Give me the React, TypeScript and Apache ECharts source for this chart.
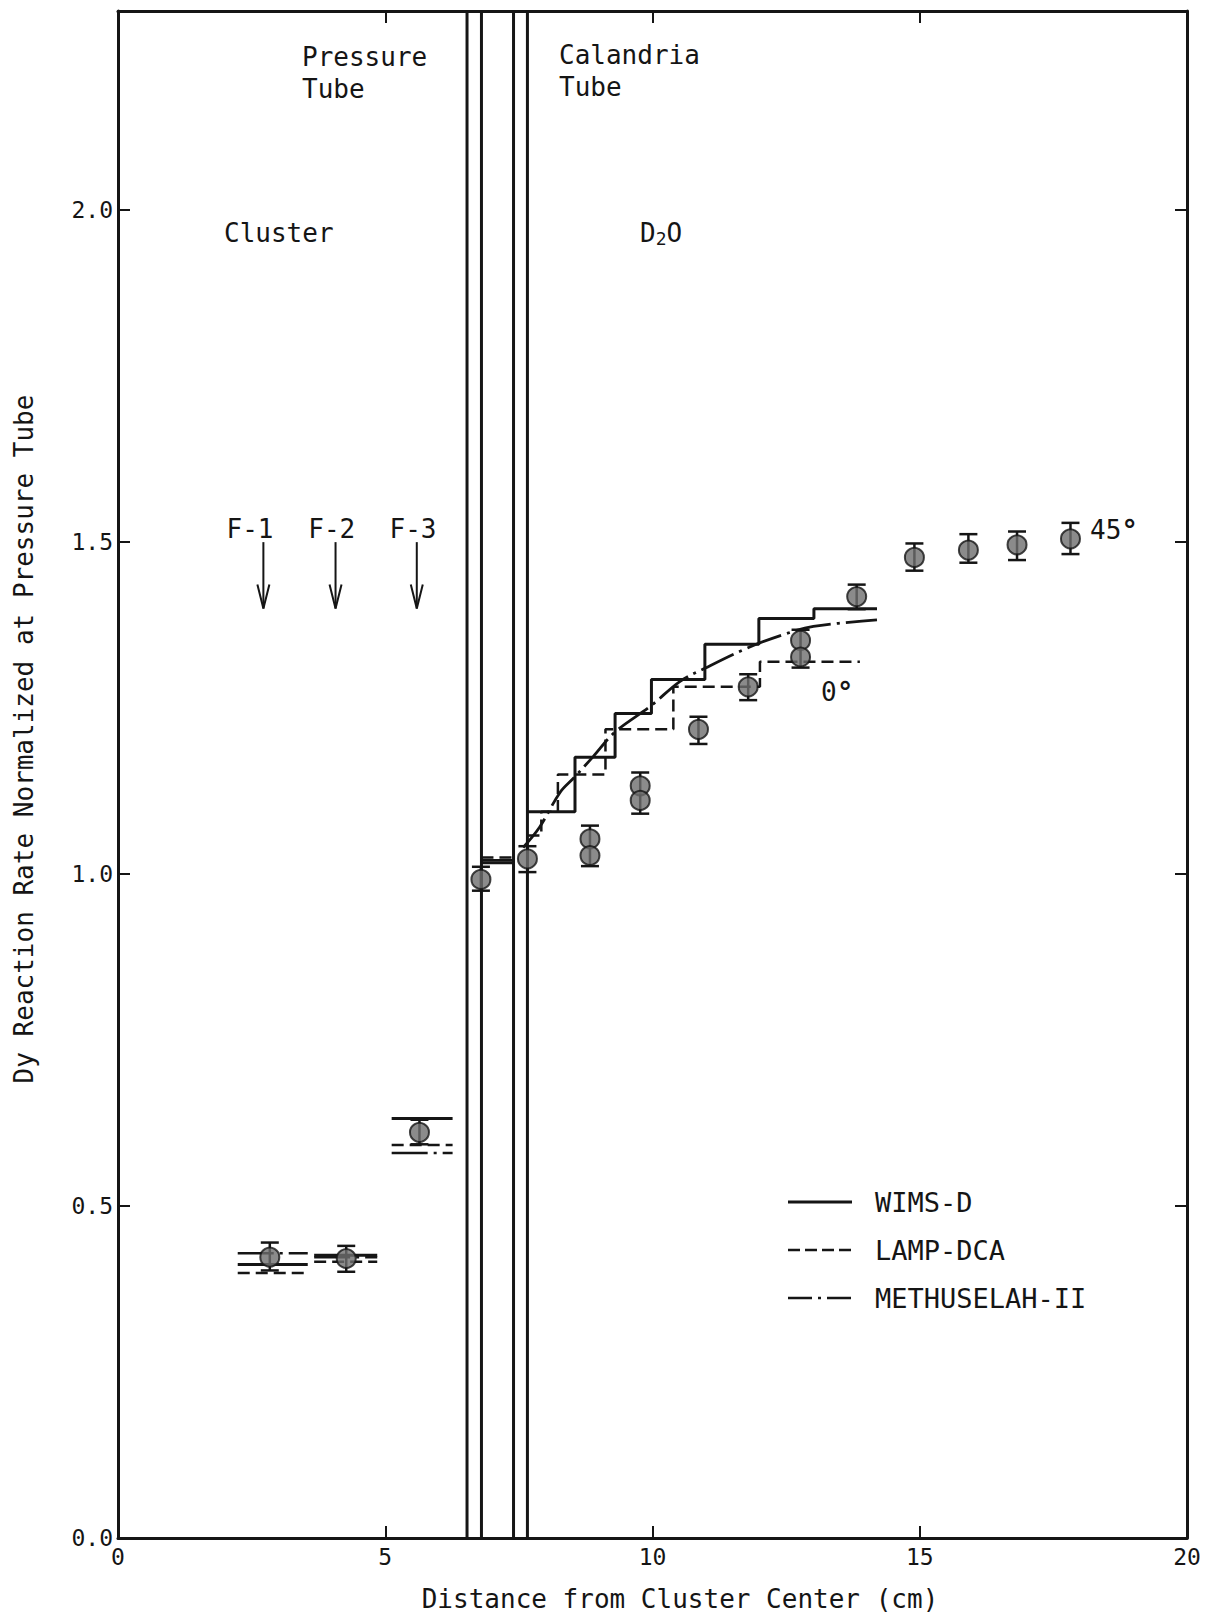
import React, { useEffect, useRef } from "react";
import * as echarts from "echarts";

const FONT = "'DejaVu Sans Mono', 'Liberation Mono', monospace";
const INK = "#151515";

// Measured Dy reaction rates (circles)
const pointX = [2.84, 4.27, 5.64, 6.79, 7.66, 8.83, 8.83, 9.77, 9.77, 10.86, 11.79, 12.77, 12.77, 13.82, 14.9, 15.91, 16.82, 17.82];
const pointY = [0.423, 0.421, 0.611, 0.992, 1.023, 1.053, 1.028, 1.133, 1.111, 1.218, 1.282, 1.352, 1.327, 1.418, 1.477, 1.488, 1.496, 1.505];

// Error bars
const errX = [2.84, 4.27, 5.64, 6.79, 7.66, 8.83, 9.77, 10.86, 11.79, 12.77, 13.82, 14.9, 15.91, 16.82, 17.82];
const errLow = [0.403, 0.401, 0.593, 0.975, 1.003, 1.012, 1.091, 1.196, 1.262, 1.311, 1.399, 1.457, 1.469, 1.473, 1.482];
const errHigh = [0.445, 0.44, 0.63, 1.011, 1.042, 1.073, 1.153, 1.237, 1.301, 1.368, 1.436, 1.498, 1.512, 1.516, 1.529];

// Fuel-pin rings and gap region: flat calculated values
const pinStartX = [2.24, 3.67, 5.12, 6.8];
const pinEndX = [3.55, 4.85, 6.26, 7.4];
const wimsPin = [0.412, 0.426, 0.632, 1.017];
const lampPin = [0.399, 0.416, 0.592, 1.025];
const methPin = [0.429, 0.423, 0.58, 1.021];

// Moderator region
const wimsStepX = [7.66, 8.55, 9.3, 9.98, 10.98, 11.99, 13.02, 14.2];
const wimsStepY = [1.094, 1.176, 1.242, 1.293, 1.346, 1.385, 1.3995, 1.3995];
const lampStepX = [7.66, 7.92, 8.23, 9.12, 10.39, 12.01, 13.88];
const lampStepY = [1.058, 1.094, 1.15, 1.218, 1.282, 1.32, 1.32];
const methCurveX = [7.58, 7.89, 8.27, 8.53, 8.89, 9.3, 9.98, 10.51, 10.98, 11.76, 12.42, 13.01, 14.2];
const methCurveY = [1.04, 1.071, 1.123, 1.145, 1.177, 1.214, 1.254, 1.29, 1.31, 1.34, 1.36, 1.373, 1.383];

// Tube walls (pressure tube, calandria tube)
const tubeWallX = [6.53, 6.8, 7.4, 7.66];

// Fuel ring markers
const fuelLabels = ["F-1", "F-2", "F-3"];
const fuelLabelX = [2.47, 4.0, 5.52];
const arrowX = [2.72, 4.07, 5.59];
const arrowTop = 1.5;
const arrowBottom = 1.4;
const fuelLabelY = 1.52;

const xTicks = [0, 5, 10, 15, 20];
const yTickLabels = ["0.0", "0.5", "1.0", "1.5", "2.0"];

const DASH = [12, 6];
const DASHDOT = [36, 6, 3, 6];

export default function App() {
  const ref = useRef<HTMLDivElement>(null);

  useEffect(() => {
    if (!ref.current) return;
    const chart = echarts.init(ref.current, null, { renderer: "svg" });

    const seg = (name: string, data: number[][], type: any, width: number, extra: any = {}) => ({
      type: "line",
      name,
      data,
      symbol: "none",
      silent: true,
      lineStyle: { color: INK, width, type },
      z: 3,
      ...extra,
    });

    const series: any[] = [];
    tubeWallX.forEach((x) => {
      series.push(seg("tube", [[x, 0], [x, 2.3]], "solid", 3));
    });
    pinStartX.forEach((x0, i) => {
      const x1 = pinEndX[i];
      series.push(seg("WIMS-D", [[x0, wimsPin[i]], [x1, wimsPin[i]]], "solid", 3));
      series.push(seg("LAMP-DCA", [[x0, lampPin[i]], [x1, lampPin[i]]], DASH, 2.5));
      series.push(seg("METHUSELAH-II", [[x0, methPin[i]], [x1, methPin[i]]], DASHDOT, 2.5));
    });
    series.push(
      seg("WIMS-D", wimsStepX.map((x, i) => [x, wimsStepY[i]]), "solid", 3, { step: "end" })
    );
    series.push(
      seg("LAMP-DCA", lampStepX.map((x, i) => [x, lampStepY[i]]), DASH, 2.5, { step: "end" })
    );
    series.push(
      seg("METHUSELAH-II", methCurveX.map((x, i) => [x, methCurveY[i]]), DASHDOT, 2.8, { smooth: 0.35 })
    );

    // error bars
    series.push({
      type: "custom",
      name: "error",
      silent: true,
      z: 4,
      data: errX.map((x, i) => [x, errLow[i], errHigh[i]]),
      renderItem: (params: any, api: any) => {
        const x = api.value(0);
        const lo = api.coord([x, api.value(1)]);
        const hi = api.coord([x, api.value(2)]);
        const hw = 9;
        const st = { stroke: INK, lineWidth: 2.5 };
        return {
          type: "group",
          children: [
            { type: "line", shape: { x1: lo[0], y1: lo[1], x2: hi[0], y2: hi[1] }, style: st },
            { type: "line", shape: { x1: lo[0] - hw, y1: lo[1], x2: lo[0] + hw, y2: lo[1] }, style: st },
            { type: "line", shape: { x1: hi[0] - hw, y1: hi[1], x2: hi[0] + hw, y2: hi[1] }, style: st },
          ],
        };
      },
    });

    series.push({
      type: "scatter",
      name: "measured",
      silent: true,
      z: 5,
      symbol: "circle",
      symbolSize: 19,
      data: pointX.map((x, i) => [x, pointY[i]]),
      itemStyle: { color: "#6e6e6e", borderColor: INK, borderWidth: 2 },
    });

    // fuel ring arrows
    series.push({
      type: "custom",
      name: "fuel",
      silent: true,
      z: 4,
      data: arrowX.map((x, i) => [x, arrowTop, arrowBottom, fuelLabelX[i], i]),
      renderItem: (params: any, api: any) => {
        const x = api.value(0);
        const top = api.coord([x, api.value(1)]);
        const bot = api.coord([x, api.value(2)]);
        const lab = api.coord([api.value(3), fuelLabelY]);
        const idx = api.value(4);
        const st = { stroke: INK, lineWidth: 2, fill: "none" };
        return {
          type: "group",
          children: [
            { type: "line", shape: { x1: top[0], y1: top[1], x2: bot[0], y2: bot[1] }, style: st },
            {
              type: "polyline",
              shape: { points: [[bot[0] - 6, bot[1] - 24], [bot[0], bot[1]], [bot[0] + 6, bot[1] - 24]] },
              style: st,
            },
            {
              type: "text",
              x: lab[0],
              y: lab[1],
              style: {
                text: fuelLabels[idx],
                fill: INK,
                fontFamily: FONT,
                fontSize: 26,
                align: "center",
                verticalAlign: "middle",
              },
            },
          ],
        };
      },
    });

    const axisLineStyle = { color: INK, width: 3 };
    const tickStyle = { color: INK, width: 2 };

    const yFormatter = (v: number) => {
      const k = Math.round(v * 2);
      if (Math.abs(v * 2 - k) > 1e-6) return "";
      return yTickLabels[k] ?? "";
    };
    const xFormatter = (v: number) => (xTicks.includes(Math.round(v)) && Math.abs(v - Math.round(v)) < 1e-6 ? String(Math.round(v)) : "");

    const txt = (text: string, x: number, y: number, extra: any = {}) => ({
      type: "text",
      x,
      y,
      silent: true,
      style: {
        text,
        fill: INK,
        fontFamily: FONT,
        fontSize: 26,
        align: "left",
        verticalAlign: "middle",
        ...extra,
      },
    });

    const legendLine = (y: number, dash: any, w: number) => ({
      type: "line",
      silent: true,
      shape: { x1: 788, y1: y, x2: 852, y2: y },
      style: { stroke: INK, lineWidth: w, lineDash: dash },
    });

    const degRich = { d: { fontSize: 28, fontWeight: "bold", fontFamily: FONT, fill: INK } };

    const option: any = {
      animation: false,
      backgroundColor: "#ffffff",
      grid: { left: 118, top: 11, width: 1069, height: 1527, containLabel: false },
      xAxis: [
        {
          type: "value",
          min: 0,
          max: 20,
          interval: 5,
          position: "bottom",
          name: "Distance from Cluster Center (cm)",
          nameLocation: "middle",
          nameGap: 48,
          nameTextStyle: { color: INK, fontFamily: FONT, fontSize: 26, padding: [0, 0, 0, 55] },
          axisLine: { show: true, onZero: false, lineStyle: axisLineStyle },
          axisTick: { show: true, inside: true, length: 12, lineStyle: tickStyle },
          axisLabel: { color: INK, fontFamily: FONT, fontSize: 23, margin: 7, formatter: xFormatter },
          splitLine: { show: false },
        },
        {
          type: "value",
          min: 0,
          max: 20,
          interval: 5,
          position: "top",
          axisLine: { show: true, onZero: false, lineStyle: axisLineStyle },
          axisTick: { show: true, inside: true, length: 12, lineStyle: tickStyle },
          axisLabel: { show: false },
          splitLine: { show: false },
        },
      ],
      yAxis: [
        {
          type: "value",
          min: 0,
          max: 2.3,
          interval: 0.5,
          position: "left",
          name: "Dy Reaction Rate Normalized at Pressure Tube",
          nameLocation: "middle",
          nameGap: 81,
          nameTextStyle: { color: INK, fontFamily: FONT, fontSize: 26, padding: [0, 0, 0, 71] },
          axisLine: { show: true, onZero: false, lineStyle: axisLineStyle },
          axisTick: { show: true, inside: true, length: 12, lineStyle: tickStyle },
          axisLabel: { color: INK, fontFamily: FONT, fontSize: 23, margin: 5, formatter: yFormatter, showMaxLabel: false },
          splitLine: { show: false },
        },
        {
          type: "value",
          min: 0,
          max: 2.3,
          interval: 0.5,
          position: "right",
          axisLine: { show: true, onZero: false, lineStyle: axisLineStyle },
          axisTick: { show: true, inside: true, length: 12, lineStyle: tickStyle },
          axisLabel: { show: false },
          splitLine: { show: false },
        },
      ],
      graphic: [
        txt("Pressure", 302, 57),
        txt("Tube", 302, 89),
        txt("Calandria", 559, 55),
        txt("Tube", 559, 87),
        txt("Cluster", 224, 233),
        txt("D{s|2}O", 640, 233, { rich: { s: { fontSize: 18, fontFamily: FONT, fill: INK, padding: [10, 0, 0, 0] } } }),
        txt("0{d|°}", 821, 692, { rich: degRich }),
        txt("45{d|°}", 1090, 530, { rich: degRich }),
        legendLine(1202, null, 3),
        legendLine(1250, [12, 5], 2.5),
        legendLine(1298, [24, 6, 3, 6], 2.5),
        txt("WIMS-D", 875, 1202, { fontSize: 27 }),
        txt("LAMP-DCA", 875, 1250, { fontSize: 27 }),
        txt("METHUSELAH-II", 875, 1298, { fontSize: 27 }),
      ],
      series,
    };

    chart.setOption(option);
    return () => chart.dispose();
  }, []);

  return (
    <div
      ref={ref}
      style={{ position: "absolute", left: 0, top: 0, width: 1206, height: 1618, background: "#fff" }}
    />
  );
}
